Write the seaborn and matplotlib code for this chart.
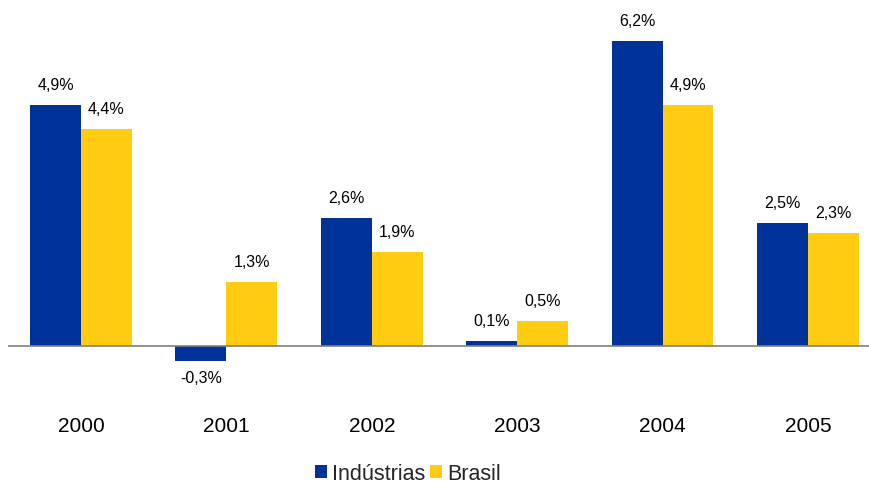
import matplotlib
matplotlib.use("Agg")
import matplotlib.pyplot as plt
import seaborn as sns
import pandas as pd
from matplotlib.patches import Patch

years = ["2000", "2001", "2002", "2003", "2004", "2005"]
industrias = [4.9, -0.3, 2.6, 0.1, 6.2, 2.5]
brasil = [4.4, 1.3, 1.9, 0.5, 4.9, 2.3]
series_names = ["Indústrias", "Brasil"]
colors = ["#003399", "#FFCC11"]

sns.set_style("white")
plt.rcParams["font.family"] = ["Liberation Sans", "DejaVu Sans"]

df = pd.DataFrame({
    "ano": years * 2,
    "serie": [series_names[0]] * len(years) + [series_names[1]] * len(years),
    "valor": industrias + brasil,
})

W, H = 869, 485
fig = plt.figure(figsize=(W / 100, H / 100), dpi=100)
ax_left, ax_right, ax_top, ax_bottom = 8, 869, 0, 400
ax = fig.add_axes([ax_left / W, 1 - ax_bottom / H, (ax_right - ax_left) / W, (ax_bottom - ax_top) / H])

sns.barplot(data=df, x="ano", y="valor", hue="serie", palette=colors,
            width=0.7, saturation=1, ax=ax, legend=False, errorbar=None,
            linewidth=0, edgecolor="none")

ax.set_xlim(-0.502, 5.42)
ax.set_ylim(-1.077, 7.05)
ax.axhline(0, color="#808080", lw=1.2, zorder=3)

for container in ax.containers:
    for bar in container:
        v = bar.get_height()
        x = bar.get_x() + bar.get_width() / 2
        txt = f"{v:.1f}%".replace(".", ",")
        if v >= 0:
            ax.annotate(txt, (x, v), xytext=(0, 9.5), textcoords="offset points",
                        ha="center", va="bottom", fontsize=11.5, color="#000000")
        else:
            ax.annotate(txt, (x, v), xytext=(0, -7), textcoords="offset points",
                        ha="center", va="top", fontsize=11.5, color="#000000")

for s in ax.spines.values():
    s.set_visible(False)
ax.set_yticks([])
ax.set_xlabel("")
ax.set_ylabel("")
ax.tick_params(axis="x", length=0, pad=12, labelsize=15, labelcolor="#000000")

handles = [Patch(facecolor=c, edgecolor="none") for c in colors]
fig.legend(handles, series_names, loc="center", bbox_to_anchor=(408 / W, 1 - 475 / H),
           ncol=2, frameon=False, fontsize=15.5, handlelength=0.55, handleheight=0.55,
           handletextpad=0.25, columnspacing=0.2, borderpad=0)

fig.savefig("out.png", dpi=100)
